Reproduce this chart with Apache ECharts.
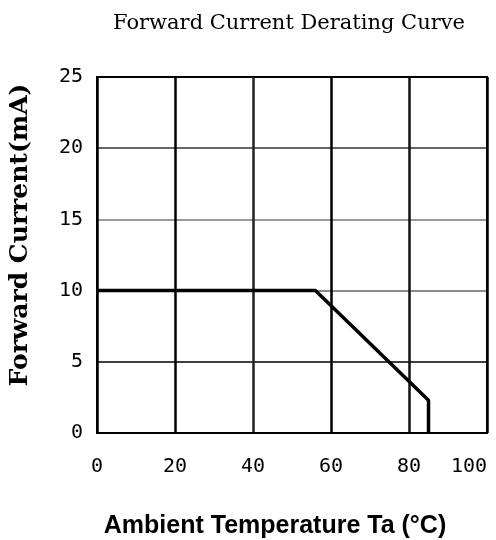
<!DOCTYPE html>
<html><head><meta charset="utf-8">
<script src="https://cdn.jsdelivr.net/npm/echarts@6/dist/echarts.min.js"></script>
<style>html,body{margin:0;padding:0;background:#fff;overflow:hidden}#c{width:496px;height:540px}</style>
</head><body><div id="c"></div>
<script>
const temperature = [0, 56, 85, 85];
const current = [10, 10, 2.3, 0];
const xTicks = [0, 20, 40, 60, 80, 100];
const yTicks = [0, 5, 10, 15, 20, 25];

const chart = echarts.init(document.getElementById('c'), null, {renderer: 'canvas', width: 496, height: 540});
chart.setOption({
  animation: false,
  backgroundColor: '#fff',
  title: {
    text: 'Forward Current Derating Curve',
    left: 108, top: 8,
    textStyle: {fontFamily: 'DejaVu Serif', fontWeight: 'normal', fontSize: 21, color: '#000'}
  },
  grid: {left: 97, width: 390, top: 77, height: 356, outerBoundsMode: 'none', containLabel: false,
         show: true, borderColor: '#000', borderWidth: 2, backgroundColor: '#fff'},
  xAxis: {
    type: 'value', min: 0, max: 100, interval: 20,
    name: 'Ambient Temperature Ta (°C)', nameLocation: 'middle', nameGap: 81,
    nameTextStyle: {fontFamily: 'Liberation Sans', fontWeight: 'bold', fontSize: 25, color: '#000', padding: [0, 34, 0, 0]},
    axisLine: {show: true, lineStyle: {color: '#000', width: 2}},
    axisTick: {show: false},
    axisLabel: {margin: 24, fontFamily: 'DejaVu Sans Mono', fontSize: 20, color: '#000', alignMaxLabel: 'right',
                formatter: v => xTicks.includes(v) ? String(v) : ''},
    splitLine: {show: true, lineStyle: {color: ['#000', '#000', '#222', '#000', '#111', '#000'], width: 2.5}}
  },
  yAxis: {
    type: 'value', min: 0, max: 25, interval: 5,
    name: 'Forward Current(mA)', nameLocation: 'middle', nameGap: 64, nameRotate: 90,
    nameTextStyle: {fontFamily: 'DejaVu Serif', fontWeight: 'bold', fontSize: 25, color: '#000', padding: [0, 0, 0, 40]},
    axisLine: {show: true, lineStyle: {color: '#000', width: 2}},
    axisTick: {show: false},
    axisLabel: {margin: 14, fontFamily: 'DejaVu Sans Mono', fontSize: 20, color: '#000', formatter: v => yTicks.includes(v) ? String(v) : ''},
    splitLine: {show: true, lineStyle: {color: ['#000', '#000', '#666', '#777', '#333', '#000'], width: 1.5}}
  },
  series: [{
    type: 'line',
    data: temperature.map((t, i) => [t, current[i]]),
    showSymbol: false,
    lineStyle: {color: '#000', width: 3.5},
    z: 5
  }]
});
</script></body></html>
